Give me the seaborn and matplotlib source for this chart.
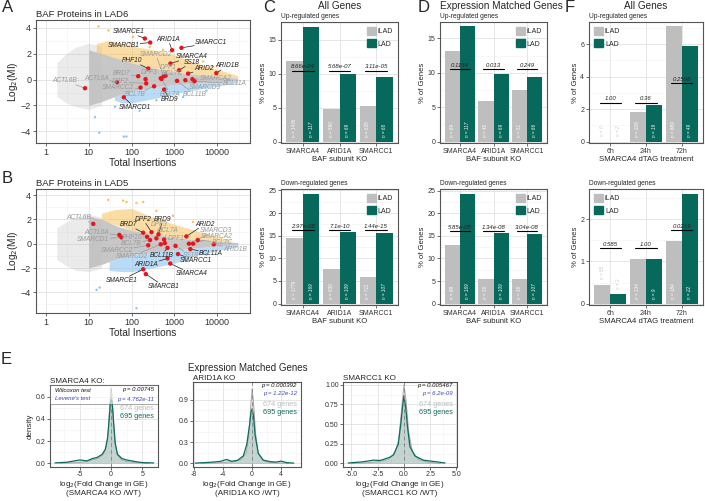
import numpy as np
import pandas as pd
import seaborn as sns
import matplotlib.pyplot as plt
from matplotlib.patches import Patch, Rectangle
from matplotlib.ticker import FixedLocator, NullFormatter

sns.set_theme(style="white")
plt.rcParams['font.family'] = ['Liberation Sans', 'DejaVu Sans']

GREY = "#bebebe"
GREEN = "#07695b"
RED = "#e8141b"
ORANGE = "#f6c15a"
BLUE = "#8cc4ef"

# ---------------- A: BAF proteins in LAD6 ----------------
a_names = ["SMARCE1", "SMARCB1", "ARID1A", "SMARCC1", "SMARCD2", "SMARCA4", "SS18", "PHF10",
           "DPF1", "ARID2", "ARID1B", "BRD7", "DPF3", "BCL7C", "SMARCA2", "BCL11A", "ACTL6B",
           "ACTL6A", "DPF2", "SMARCC2", "SMARCD3", "BCL7B", "BCL7A", "BCL11B", "BRD9", "SMARCD1"]
a_x = [204, 272, 883, 1456, 560, 807, 1290, 245, 620, 2090, 9500, 143, 212, 480, 2630, 2950, 8.2,
       46, 220, 162, 1800, 336, 500, 1150, 575, 66]
a_y = [3.17, 2.86, 2.27, 2.45, 0.25, 1.24, 0.72, 0.85, 0.3, 0.46, 0.5, 0.26, 0.03, 0.1, 0.03, -0.13,
       -0.67, -0.2, -0.3, -0.62, -0.05, -0.52, 0.05, -0.1, -0.77, -1.37]
a_lx = [84, 64, 713, 7270, 368, 2486, 2486, 104, 713, 4800, 17000, 58, 258, 900, 9000, 26000, 2.8,
        15.3, 53, 49, 5200, 120, 800, 2960, 780, 120]
a_ly = [3.69, 2.66, 3.1, 2.84, 1.96, 1.75, 1.32, 1.45, 0.93, 0.83, 1.05, 0.46, 0.52, 0.45, 0.1, -0.3,
        -0.1, 0.08, -0.18, -0.62, -0.6, -1.13, -1.12, -1.12, -1.55, -2.17]
a_sig = ["SMARCE1", "SMARCB1", "ARID1A", "SMARCC1", "SMARCA4", "SS18", "PHF10", "ARID2", "ARID1B",
         "BRD9", "SMARCD1"]

# background cloud outlines
a_fan_x = [1.8, 3, 5, 10, 20]
a_fan_hi = [1.3, 2.0, 2.5, 2.8, 2.6]
a_fan_lo = [-1.3, -1.8, -2.1, -2.3, -2.0]
a_gr_x = [10, 20, 50, 100, 300, 1000, 3000, 10000, 30000]
a_gr_hi = [2.3, 2.0, 1.6, 1.3, 0.9, 0.6, 0.4, 0.25, 0.1]
a_gr_lo = [-2.0, -1.7, -1.2, -0.9, -0.6, -0.4, -0.3, -0.2, -0.1]
a_up_x = [15, 30, 60, 100, 300, 1000, 3000, 10000, 30000]
a_up_hi = [2.8, 3.0, 2.8, 2.6, 2.3, 1.9, 1.3, 0.8, 0.3]
a_up_lo = [2.0, 1.8, 1.5, 1.3, 0.9, 0.6, 0.4, 0.25, 0.1]
a_dn_x = [40, 60, 100, 300, 1000, 3000, 10000, 30000]
a_dn_hi = [-1.3, -1.1, -0.9, -0.6, -0.4, -0.3, -0.2, -0.1]
a_dn_lo = [-1.6, -1.8, -1.8, -1.5, -1.1, -0.8, -0.5, -0.25]
a_up_ox = [17, 29, 91, 109, 265, 540, 1900, 4700, 7900]
a_up_oy = [4.1, 3.8, 2.8, 3.3, 2.5, 2.3, 1.75, 1.4, 1.0]
a_dn_ox = [17.7, 66, 76, 41, 155, 380, 1600, 5600, 14]
a_dn_oy = [-4.1, -4.4, -4.4, -2.1, -2.4, -1.6, -1.35, -0.85, -2.9]

# ---------------- B: BAF proteins in LAD5 ----------------
b_names = ["ACTL6B", "ACTL6A", "SMARCD1", "BRD7", "DPF2", "BRD9", "DPF3", "BCL7A", "PHF10", "BCL7B",
           "SMARCC2", "DPF1", "ARID2", "SMARCD3", "SMARCA2", "ARID1B", "BCL11A", "SS18", "BCL11B",
           "SMARCC1", "ARID1A", "SMARCA4", "SMARCE1", "SMARCB1", "SMARCD2", "BCL7C"]
b_x = [12.8, 52, 58, 187, 292, 425, 380, 575, 230, 270, 245, 596, 1900, 2180, 2720, 8300, 2350, 1060,
       690, 1210, 690, 800, 187, 215, 480, 3500]
b_y = [1.63, 0.72, 0.52, 0.9, 0.95, 0.77, 0.44, 0.34, 0.57, 0.3, -0.13, 0.05, 0.6, 0.0, 0.0, -0.05,
       -0.44, -0.18, -0.34, -0.85, -1.21, -1.63, -2.1, -2.5, -0.05, 0.3]
b_lx = [6, 15.3, 12.8, 83, 187, 540, 440, 710, 100, 100, 45, 1100, 5050, 9200, 9800, 26000, 7200, 2350,
        500, 3250, 220, 2480, 58, 570, 100, 13000]
b_ly = [2.14, 0.9, 0.34, 1.55, 2.0, 2.0, 1.55, 1.08, 0.55, 0.02, -0.58, 0.44, 1.6, 1.1, 0.62, -0.45,
        -0.8, -0.95, -0.95, -1.42, -1.75, -2.45, -3.0, -3.5, -1.05, 0.12]
b_sig = ["BRD7", "DPF2", "BRD9", "ARID2", "BCL11B", "BCL11A", "SMARCC1", "ARID1A", "SMARCA4",
         "SMARCE1", "SMARCB1"]

b_fan_x = [1.8, 3, 5, 10, 20]
b_fan_hi = [1.3, 1.8, 2.2, 2.4, 2.2]
b_fan_lo = [-1.3, -1.8, -2.2, -2.3, -2.0]
b_gr_x = [10, 20, 50, 100, 300, 1000, 3000, 10000, 30000]
b_gr_hi = [2.3, 2.0, 1.4, 1.1, 0.8, 0.5, 0.35, 0.2, 0.1]
b_gr_lo = [-2.0, -1.7, -1.2, -0.9, -0.7, -0.5, -0.35, -0.2, -0.1]
b_up_x = [20, 40, 100, 300, 1000, 3000, 10000, 20000]
b_up_hi = [2.5, 2.8, 2.9, 2.2, 1.6, 1.1, 0.6, 0.3]
b_up_lo = [1.9, 1.6, 1.1, 0.8, 0.5, 0.35, 0.2, 0.12]
b_dn_x = [30, 60, 100, 300, 1000, 3000, 10000, 30000]
b_dn_hi = [-1.5, -1.1, -0.9, -0.7, -0.5, -0.35, -0.2, -0.1]
b_dn_lo = [-2.2, -2.3, -2.3, -2.0, -1.6, -1.0, -0.55, -0.25]
b_up_ox = [28.6, 63.5, 76, 130, 187, 380, 930, 2700]
b_up_oy = [3.6, 3.54, 3.43, 3.35, 3.43, 2.7, 2.3, 1.8]
b_dn_ox = [15.3, 130, 18, 155, 1900, 5600]
b_dn_oy = [-3.8, -5.3, -3.6, -2.2, -1.4, -0.9]

# ---------------- C / D / F: % of genes ----------------
ko = ["SMARCA4", "ARID1A", "SMARCC1"]
dtag = ["6h", "24h", "72h"]

c_up_ilad = [11.8, 4.8, 5.2]
c_up_lad = [16.8, 10.0, 9.5]
c_up_n_ilad = [1436, 590, 635]
c_up_n_lad = [117, 69, 66]
c_up_p = ["8.66e-04", "5.68e-07", "3.11e-05"]
c_up_brk = [10.4, 10.4, 10.4]

c_dn_ilad = [14.5, 7.7, 5.9]
c_dn_lad = [24.3, 15.8, 15.5]
c_dn_n_ilad = [1776, 930, 711]
c_dn_n_lad = [169, 109, 107]
c_dn_p = ["2.97e-08", "7.1e-10", "1.44e-15"]
c_dn_brk = [16.2, 16.2, 16.2]

d_up_ilad = [13.2, 5.85, 7.5]
d_up_lad = [16.8, 9.85, 9.4]
d_up_n_ilad = [89, 40, 51]
d_up_n_lad = [117, 69, 66]
d_up_p = ["0.1164", "0.013", "0.249"]
d_up_brk = [10.5, 10.5, 10.5]

d_dn_ilad = [12.9, 5.4, 5.4]
d_dn_lad = [24.4, 15.7, 15.5]
d_dn_n_ilad = [88, 36, 36]
d_dn_n_lad = [169, 109, 107]
d_dn_p = ["5.85e-05", "1.34e-08", "3.04e-08"]
d_dn_brk = [16.1, 16.1, 16.1]

f_up_ilad = [0.0, 1.83, 7.1]
f_up_lad = [0.0, 2.27, 5.9]
f_up_n_ilad = [0, 228, 889]
f_up_n_lad = [2, 19, 49]
f_up_p = ["1.00", "0.36", "0.2598"]
f_up_brk = [2.4, 2.4, 3.6]

f_dn_ilad = [0.44, 1.07, 1.48]
f_dn_lad = [0.22, 1.05, 2.6]
f_dn_n_ilad = [55, 134, 184]
f_dn_n_lad = [2, 9, 22]
f_dn_p = ["0.585", "1.00", "0.0219"]
f_dn_brk = [1.31, 1.31, 1.75]

# ---------------- E: fold change densities ----------------
e1_lad_x = [-8.9, -7.0, -5.4, -4.9, -3.8, -3.0, -2.2, -1.4, -0.9, -0.54, -0.27, -0.1, 0.05, 0.2, 0.42,
            0.69, 1.05, 1.75, 2.5, 3.5, 4.5, 5.5, 6.8]
e1_lad_y = [0.004, 0.01, 0.026, 0.03, 0.022, 0.042, 0.053, 0.081, 0.125, 0.224, 0.40, 0.53, 0.58,
            0.554, 0.378, 0.18, 0.081, 0.044, 0.03, 0.02, 0.01, 0.005, 0.004]
e1_ilad_x = [-8.0, -6.0, -4.5, -3.0, -2.0, -1.2, -0.7, -0.4, -0.2, 0.0, 0.15, 0.35, 0.6, 1.0, 1.6, 2.5,
             4.0, 6.0]
e1_ilad_y = [0.0, 0.005, 0.01, 0.03, 0.045, 0.08, 0.15, 0.3, 0.52, 0.68, 0.62, 0.42, 0.2, 0.08, 0.035,
             0.015, 0.005, 0.0]
e2_lad_x = [-7.8, -6.5, -5.3, -4.3, -3.5, -2.8, -2.0, -1.2, -0.73, -0.36, -0.14, 0.0, 0.18, 0.41, 0.86,
            1.55, 2.5, 3.3, 4.0, 4.7, 5.7]
e2_lad_y = [0.005, 0.012, 0.02, 0.03, 0.056, 0.03, 0.045, 0.106, 0.27, 0.535, 0.73, 0.77, 0.68, 0.40,
            0.14, 0.046, 0.025, 0.02, 0.033, 0.012, 0.005]
e2_ilad_x = [-7, -5, -3.5, -2.2, -1.4, -0.8, -0.45, -0.2, 0.0, 0.2, 0.45, 0.8, 1.4, 2.2, 3.5, 5]
e2_ilad_y = [0.0, 0.006, 0.015, 0.03, 0.06, 0.15, 0.4, 0.8, 1.05, 0.85, 0.45, 0.15, 0.05, 0.02, 0.006,
             0.0]
e3_lad_x = [-5.3, -3.9, -2.9, -2.3, -1.97, -1.33, -1.0, -0.54, -0.29, -0.13, 0.0, 0.16, 0.35, 0.57,
            1.05, 1.84, 3.1, 3.9]
e3_lad_y = [0.006, 0.021, 0.042, 0.038, 0.05, 0.08, 0.11, 0.244, 0.512, 0.72, 0.86, 0.72, 0.452,
            0.214, 0.095, 0.042, 0.021, 0.006]
e3_ilad_x = [-5, -3.5, -2.3, -1.5, -0.9, -0.5, -0.25, 0.0, 0.2, 0.45, 0.8, 1.4, 2.3, 3.5]
e3_ilad_y = [0.0, 0.008, 0.025, 0.05, 0.12, 0.3, 0.65, 1.0, 0.8, 0.4, 0.15, 0.05, 0.015, 0.0]
e_wilcox = ["0.00745", "0.000392", "0.005467"]
e_levene = ["4.762e-11", "1.22e-12", "6.2e-09"]
e_ko = ["SMARCA4 KO:", "ARID1A KO", "SMARCC1 KO"]

# ---------------- figure ----------------
W, H = 705, 501
fig = plt.figure(figsize=(W / 100, H / 100), dpi=100)


def panel(x0, y0, x1, y1):
    return fig.add_axes([x0 / W, 1 - y1 / H, (x1 - x0) / W, (y1 - y0) / H])


def ftext(x, y, s, **kw):
    fig.text(x / W, 1 - y / H, s, **kw)


def bw(ax, size=5, pad=1.5):
    ax.set_facecolor("white")
    for sp in ax.spines.values():
        sp.set_visible(True)
        sp.set_color("#555555")
        sp.set_linewidth(0.8)
    ax.grid(True, which="major", color="#e2e2e2", lw=0.6)
    ax.grid(True, which="minor", color="#f1f1f1", lw=0.4)
    ax.set_axisbelow(True)
    ax.tick_params(which="major", bottom=True, left=True, length=2, width=0.5,
                   colors="#333333", labelsize=size, pad=pad)
    ax.tick_params(which="minor", length=0)


links = []


def mi_panel(ax, names, px, py, lx, ly, sig, fan, grey, up, dn, up_o, dn_o, ylim, title):
    ax.fill_between(fan[0], fan[1], fan[2], color=GREY, alpha=0.3, lw=0)
    ax.fill_between(up[0], up[2], up[1], color=ORANGE, alpha=0.55, lw=0)
    ax.fill_between(dn[0], dn[1], dn[2], color=BLUE, alpha=0.6, lw=0)
    ax.fill_between(grey[0], grey[2], grey[1], color=GREY, alpha=0.85, lw=0)
    sns.scatterplot(x=up_o[0], y=up_o[1], color=ORANGE, s=3, edgecolor="none", ax=ax)
    sns.scatterplot(x=dn_o[0], y=dn_o[1], color=BLUE, s=3, edgecolor="none", ax=ax)
    sns.scatterplot(x=px, y=py, color=RED, s=10, edgecolor="none", ax=ax, zorder=5)
    ax.set_xscale("log")
    ax.set_xlim(0.59, 58000)
    ax.set_ylim(*ylim)
    ax.set_xticks([1, 10, 100, 1000, 10000], ["1", "10", "100", "1000", "10000"])
    ax.xaxis.set_minor_locator(FixedLocator([0.316, 3.16, 31.6, 316, 3162, 31623]))
    ax.xaxis.set_minor_formatter(NullFormatter())
    ax.set_yticks([-4, -2, 0, 2, 4])
    ax.yaxis.set_minor_locator(FixedLocator([-5, -3, -1, 1, 3]))
    bw(ax, 6.5)
    ax.set_xlabel("Total Insertions", fontsize=7.2, labelpad=1)
    ax.set_ylabel("Log$_2$(MI)", fontsize=7.2, labelpad=1)
    ax.set_title(title, loc="left", fontsize=6.8, pad=2)
    for n, x, y, tx, ty in zip(names, px, py, lx, ly):
        c = "#222222" if n in sig else "#9a9a9a"
        t = ax.text(tx, ty, n, fontsize=4.8, style="italic", color=c, ha="center", va="center",
                    zorder=6)
        links.append((ax, t, x, y, c))


axA = panel(36, 20, 250, 143)
mi_panel(axA, a_names, a_x, a_y, a_lx, a_ly, a_sig, (a_fan_x, a_fan_hi, a_fan_lo),
         (a_gr_x, a_gr_hi, a_gr_lo), (a_up_x, a_up_hi, a_up_lo), (a_dn_x, a_dn_hi, a_dn_lo),
         (a_up_ox, a_up_oy), (a_dn_ox, a_dn_oy), (-4.9, 4.6), "BAF Proteins in LAD6")
axB = panel(36, 189, 250, 313)
mi_panel(axB, b_names, b_x, b_y, b_lx, b_ly, b_sig, (b_fan_x, b_fan_hi, b_fan_lo),
         (b_gr_x, b_gr_hi, b_gr_lo), (b_up_x, b_up_hi, b_up_lo), (b_dn_x, b_dn_hi, b_dn_lo),
         (b_up_ox, b_up_oy), (b_dn_ox, b_dn_oy), (-5.7, 4.5), "BAF Proteins in LAD5")


def bars(ax, cats, ilad, lad, n_ilad, n_lad, pvals, brk, ytop, yticks, xlabel, leg_loc,
         small_first=False):
    df = pd.DataFrame({"cat": cats * 2, "grp": ["iLAD"] * 3 + ["LAD"] * 3, "pct": ilad + lad})
    sns.barplot(data=df, x="cat", y="pct", hue="grp", order=cats, hue_order=["iLAD", "LAD"],
                palette={"iLAD": GREY, "LAD": GREEN}, width=0.9, gap=0, saturation=1,
                errorbar=None, legend=False, linewidth=0, ax=ax)
    ax.set_xlim(-0.6, 2.6)
    ax.set_ylim(-0.012 * ytop, ytop)
    ax.set_yticks(yticks)
    step = yticks[1] - yticks[0]
    ax.yaxis.set_minor_locator(FixedLocator([v + step / 2 for v in yticks]))
    bw(ax, 5)
    ax.set_xlabel(xlabel, fontsize=5.6, labelpad=1)
    ax.set_ylabel("% of Genes", fontsize=5.6, labelpad=1)
    for cont, ns, vals in zip(ax.containers, [n_ilad, n_lad], [ilad, lad]):
        for i, (bar, n, v) in enumerate(zip(cont, ns, vals)):
            xc = bar.get_x() + bar.get_width() / 2
            if small_first and i == 0:
                ax.text(xc, v + 0.05 * ytop, f"n = {n}", rotation=90, ha="center", va="bottom",
                        fontsize=3.3, style="italic", color="#c8c8c8")
            else:
                ax.text(xc, 0.04 * ytop, f"n = {n}", rotation=90, ha="center", va="bottom",
                        fontsize=3.3, style="italic", color="white")
    for i, (p, b) in enumerate(zip(pvals, brk)):
        ax.plot([i - 0.3, i + 0.3], [b, b], color="black", lw=0.8)
        ax.text(i, b + 0.012 * ytop, p, ha="center", va="bottom", fontsize=4.3, style="italic",
                color="#222222")
    ax.legend(handles=[Patch(color=GREY, label="iLAD"), Patch(color=GREEN, label="LAD")],
              loc=leg_loc, frameon=False, fontsize=5, handlelength=1.3, handleheight=1.4,
              labelspacing=0.6, handletextpad=0.3, borderaxespad=0.3)


UP = (22, 143)
DN = (189, 305)
COLS = [(281, 398), (440, 547), (589, 703)]
axC1 = panel(COLS[0][0], UP[0], COLS[0][1], UP[1])
bars(axC1, ko, c_up_ilad, c_up_lad, c_up_n_ilad, c_up_n_lad, c_up_p, c_up_brk, 17.6,
     [0, 5, 10, 15], "BAF subunit KO", "upper right")
axC2 = panel(COLS[0][0], DN[0], COLS[0][1], DN[1])
bars(axC2, ko, c_dn_ilad, c_dn_lad, c_dn_n_ilad, c_dn_n_lad, c_dn_p, c_dn_brk, 25.3,
     [0, 5, 10, 15, 20, 25], "BAF subunit KO", "upper right")
axD1 = panel(COLS[1][0], UP[0], COLS[1][1], UP[1])
bars(axD1, ko, d_up_ilad, d_up_lad, d_up_n_ilad, d_up_n_lad, d_up_p, d_up_brk, 17.4,
     [0, 5, 10, 15], "BAF subunit KO", "upper right")
axD2 = panel(COLS[1][0], DN[0], COLS[1][1], DN[1])
bars(axD2, ko, d_dn_ilad, d_dn_lad, d_dn_n_ilad, d_dn_n_lad, d_dn_p, d_dn_brk, 25.4,
     [0, 5, 10, 15, 20, 25], "BAF subunit KO", "upper right")
axF1 = panel(COLS[2][0], UP[0], COLS[2][1], UP[1])
bars(axF1, dtag, f_up_ilad, f_up_lad, f_up_n_ilad, f_up_n_lad, f_up_p, f_up_brk, 7.36,
     [0, 2, 4, 6], "SMARCA4 dTAG treatment", "upper left", small_first=True)
axF2 = panel(COLS[2][0], DN[0], COLS[2][1], DN[1])
bars(axF2, dtag, f_dn_ilad, f_dn_lad, f_dn_n_ilad, f_dn_n_lad, f_dn_p, f_dn_brk, 2.72,
     [0, 1, 2], "SMARCA4 dTAG treatment", "upper left", small_first=True)

for (x0, x1), head in zip(COLS, ["All Genes", "Expression Matched Genes", "All Genes"]):
    if head == "All Genes":
        ftext((x0 + x1) / 2, 6, head, fontsize=7.2, ha="center", va="center")
    else:
        ftext(x0, 6, head, fontsize=7.2, ha="left", va="center")
    ftext(x0, 16, "Up-regulated genes", fontsize=4.8, ha="left", va="center")
    ftext(x0, DN[0] - 5, "Down-regulated genes", fontsize=4.8, ha="left", va="center")

# ---------------- E ----------------
e_boxes = [(50, 385, 158, 467), (193, 382, 301, 467), (343, 382, 457, 467)]
e_curves = [(e1_ilad_x, e1_ilad_y, e1_lad_x, e1_lad_y), (e2_ilad_x, e2_ilad_y, e2_lad_x, e2_lad_y),
            (e3_ilad_x, e3_ilad_y, e3_lad_x, e3_lad_y)]
e_xlim = [(-9.7, 7.5), (-8.1, 6.7), (-5.8, 5.05)]
e_ylim = [(-0.033, 0.705), (-0.05, 1.15), (-0.045, 1.036)]
e_xt = [[-5, 0, 5], [-8, -4, 0, 4], [-5.0, -2.5, 0.0, 2.5, 5.0]]
e_xtl = [["-5", "0", "5"], ["-8", "-4", "0", "4"], ["-5.0", "-2.5", "0.0", "2.5", "5.0"]]
e_yt = [[0.0, 0.2, 0.4, 0.6], [0.0, 0.3, 0.6, 0.9], [0.0, 0.25, 0.5, 0.75, 1.0]]
e_ytl = [["0.0", "0.2", "0.4", "0.6"], ["0.0", "0.3", "0.6", "0.9"],
         ["0.00", "0.25", "0.50", "0.75", "1.00"]]
e_lab = ["SMARCA4", "ARID1A", "SMARCC1"]

for k in range(3):
    x0, y0, x1, y1 = e_boxes[k]
    ax = panel(x0, y0, x1, y1)
    gx, gy, lx_, ly_ = e_curves[k]
    ax.fill_between(gx, gy, color="#b5b5b5", alpha=0.35, lw=0)
    ax.fill_between(lx_, ly_, color="#2c8a78", alpha=0.18, lw=0)
    sns.lineplot(x=gx, y=gy, color="#a9a9a9", lw=0.7, ax=ax)
    sns.lineplot(x=lx_, y=ly_, color="#0c6b5d", lw=0.9, ax=ax)
    ax.axvline(0, color="#8c8c8c", lw=0.7, ls=(0, (4, 3)))
    ax.set_xlim(*e_xlim[k])
    ax.set_ylim(*e_ylim[k])
    ax.set_xticks(e_xt[k], e_xtl[k])
    ax.set_yticks(e_yt[k], e_ytl[k])
    xs = e_xt[k][1] - e_xt[k][0]
    ys = e_yt[k][1] - e_yt[k][0]
    ax.xaxis.set_minor_locator(FixedLocator([v - xs / 2 for v in e_xt[k]] + [e_xt[k][-1] + xs / 2]))
    ax.yaxis.set_minor_locator(FixedLocator([v + ys / 2 for v in e_yt[k]]))
    bw(ax, 5, pad=1)
    ax.set_xlabel(f"log$_2$(Fold Change in GE)\n({e_lab[k]} KO /WT)", fontsize=5.8, labelpad=0.5,
                  linespacing=0.95)
    ax.set_ylabel("density" if k == 0 else "", fontsize=5.8, labelpad=2)
    ax.set_title(e_ko[k], loc="left", fontsize=5.8, pad=1.5)
    hgt = y1 - y0
    if k == 0:
        ax.add_patch(Rectangle((0, 1 - 19 / hgt), 1, 19 / hgt, transform=ax.transAxes,
                               facecolor="white", alpha=0.6, edgecolor="#555555", lw=0.6, zorder=4))
        ax.text(0.05, 1 - 5 / hgt, "Wilcoxon test", transform=ax.transAxes, fontsize=4.3,
                style="italic", color="#111111", va="center", zorder=5)
        ax.text(0.05, 1 - 14 / hgt, "Levene's test", transform=ax.transAxes, fontsize=4.3,
                style="italic", color="#3b45b8", va="center", zorder=5)
        r1, r2, g1, g2 = 5, 14, 23, 31
    else:
        r1, r2, g1, g2 = 4, 12, 22, 30
    ax.text(0.96, 1 - r1 / hgt, f"p = {e_wilcox[k]}", transform=ax.transAxes, fontsize=4.3,
            style="italic", color="#111111", ha="right", va="center", zorder=5)
    ax.text(0.96, 1 - r2 / hgt, f"p = {e_levene[k]}", transform=ax.transAxes, fontsize=4.3,
            style="italic", color="#3b45b8", ha="right", va="center", zorder=5)
    ax.text(0.96, 1 - g1 / hgt, "674 genes", transform=ax.transAxes, fontsize=5.2,
            color="#bdbdbd", ha="right", va="center", zorder=5)
    ax.text(0.96, 1 - g2 / hgt, "695 genes", transform=ax.transAxes, fontsize=5.2,
            color="#0c6b5d", ha="right", va="center", zorder=5)

ftext(188, 368, "Expression Matched Genes", fontsize=7, ha="left", va="center")

# panel letters
for s, x, y in [("A", 2, 8), ("B", 2, 178), ("C", 263, 8), ("D", 418, 8), ("F", 565, 8),
                ("E", 1, 360)]:
    ftext(x, y, s, fontsize=12, ha="left", va="center")

# leader lines from labels to points
fig.canvas.draw()
r = fig.canvas.get_renderer()
for ax, t, x, y, c in links:
    bb = t.get_window_extent(r)
    p = ax.transData.transform((x, y))
    cx, cy = (bb.x0 + bb.x1) / 2, (bb.y0 + bb.y1) / 2
    dx, dy = p[0] - cx, p[1] - cy
    hw, hh = bb.width / 2 + 1, bb.height / 2 + 0.5
    tx = hw / abs(dx) if dx != 0 else np.inf
    ty = hh / abs(dy) if dy != 0 else np.inf
    s = min(tx, ty)
    if s >= 1:
        continue
    e = (cx + dx * s, cy + dy * s)
    (u0, v0), (u1, v1) = ax.transData.inverted().transform([p, e])
    ax.plot([u0, u1], [v0, v1], color=c, lw=0.5, zorder=4)

fig.savefig("out.png", dpi=100)
